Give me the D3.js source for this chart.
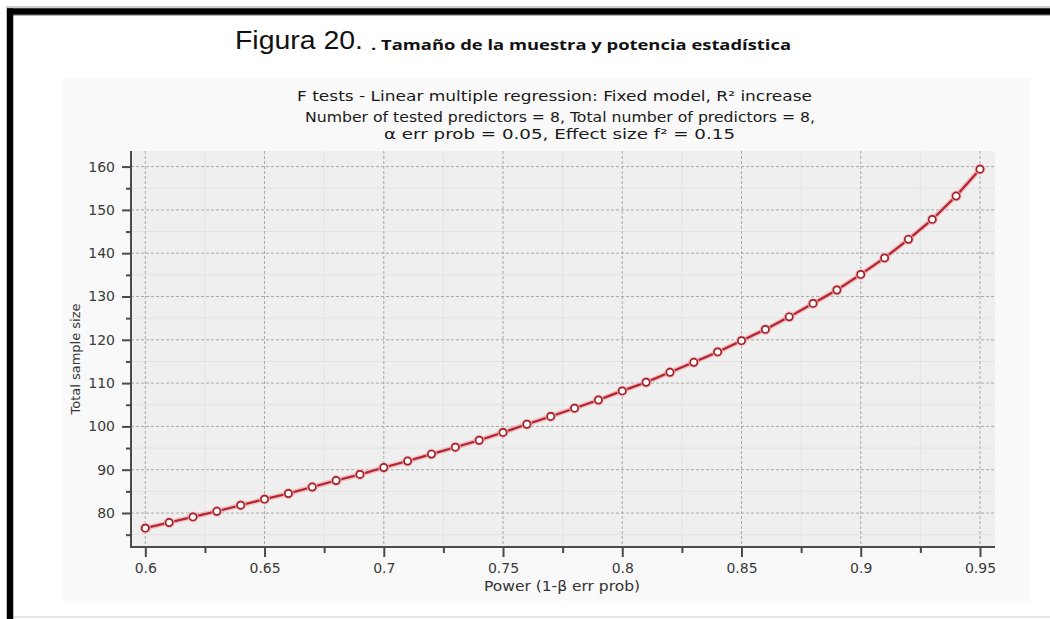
<!DOCTYPE html>
<html>
<head>
<meta charset="utf-8">
<script src="https://cdn.jsdelivr.net/npm/d3@7"></script>
<style>
  html, body { margin: 0; padding: 0; background: #ffffff; }
  svg { display: block; }
</style>
</head>
<body>
<svg id="chart" width="1050" height="619"></svg>
<script>
// Power (1-β) values on the horizontal axis
const power = [0.60, 0.61, 0.62, 0.63, 0.64, 0.65, 0.66, 0.67, 0.68, 0.69,
               0.70, 0.71, 0.72, 0.73, 0.74, 0.75, 0.76, 0.77, 0.78, 0.79,
               0.80, 0.81, 0.82, 0.83, 0.84, 0.85, 0.86, 0.87, 0.88, 0.89,
               0.90, 0.91, 0.92, 0.93, 0.94, 0.95];
// Total sample size required at each power level
const sampleSize = [76.5, 77.8, 79.1, 80.4, 81.8, 83.2, 84.5, 86.0, 87.5, 88.9,
                    90.5, 92.0, 93.6, 95.2, 96.8, 98.6, 100.5, 102.3, 104.2, 106.1,
                    108.2, 110.2, 112.5, 114.8, 117.2, 119.8, 122.4, 125.3, 128.4, 131.5,
                    135.1, 138.9, 143.2, 147.8, 153.2, 159.4];
// Axis ticks
const xTicks = [0.6, 0.65, 0.7, 0.75, 0.8, 0.85, 0.9, 0.95];
const xMinorTicks = [0.625, 0.675, 0.725, 0.775, 0.825, 0.875, 0.925];
const yTicks = [80, 90, 100, 110, 120, 130, 140, 150, 160];
const yMinorTicks = [75, 85, 95, 105, 115, 125, 135, 145, 155];
const xTickLabels = ["0.6", "0.65", "0.7", "0.75", "0.8", "0.85", "0.9", "0.95"];

// Titles
const figureTitle = "Figura 20.";
const figureCaption = ". Tamaño de la muestra y potencia estadística";
const chartTitleLines = [
  "F tests - Linear multiple regression: Fixed model, R² increase",
  "Number of tested predictors = 8, Total number of predictors = 8,",
  "α err prob = 0.05, Effect size f² = 0.15"
];
const xLabel = "Power (1-β err prob)";
const yLabel = "Total sample size";

const svg = d3.select("#chart");

// Document frame: heavy rule on the top and left edges
svg.append("rect").attr("x", 0).attr("y", 0).attr("width", 1050).attr("height", 619).attr("fill", "#ffffff");
svg.append("line").attr("x1", 6).attr("x2", 1050).attr("y1", 7).attr("y2", 7).attr("stroke", "#9a9a9a").attr("stroke-width", 1);
svg.append("line").attr("x1", 13).attr("x2", 1050).attr("y1", 15.5).attr("y2", 15.5).attr("stroke", "#b0b0b0").attr("stroke-width", 1);
svg.append("line").attr("x1", 13).attr("x2", 1050).attr("y1", 617).attr("y2", 617).attr("stroke", "#dddddd").attr("stroke-width", 1.5);
svg.append("line").attr("x1", 7).attr("x2", 1050).attr("y1", 11.5).attr("y2", 11.5).attr("stroke", "#000").attr("stroke-width", 6.5);
svg.append("line").attr("x1", 10).attr("x2", 10).attr("y1", 8.5).attr("y2", 619).attr("stroke", "#000").attr("stroke-width", 6.5);

// Figure heading
svg.append("text")
  .attr("x", 235).attr("y", 49)
  .attr("font-family", "Liberation Sans, Arial, sans-serif")
  .attr("font-size", 26)
  .attr("textLength", 128).attr("lengthAdjust", "spacingAndGlyphs")
  .attr("fill", "#111")
  .text(figureTitle);
svg.append("text")
  .attr("x", 371).attr("y", 50)
  .attr("font-family", "Open Sans, sans-serif")
  .attr("font-weight", "bold")
  .attr("font-size", 14)
  .attr("textLength", 420).attr("lengthAdjust", "spacingAndGlyphs")
  .attr("fill", "#111")
  .text(figureCaption);

// Chart panel
svg.append("rect").attr("x", 63).attr("y", 78).attr("width", 967).attr("height", 523).attr("fill", "#f9f9f9");

// Chart title block
const titleSpecs = [
  {y: 101, x0: 297, x1: 812},
  {y: 122, x0: 305, x1: 815},
  {y: 139, x0: 384, x1: 735}
];
chartTitleLines.forEach((t, i) => {
  svg.append("text")
    .attr("x", (titleSpecs[i].x0 + titleSpecs[i].x1) / 2)
    .attr("y", titleSpecs[i].y)
    .attr("text-anchor", "middle")
    .attr("font-family", "DejaVu Sans, sans-serif")
    .attr("font-size", 14.5)
    .attr("textLength", titleSpecs[i].x1 - titleSpecs[i].x0).attr("lengthAdjust", "spacingAndGlyphs")
    .attr("fill", "#1a1a1a")
    .text(t);
});

// Plot area
const plot = {left: 131, right: 995, top: 151, bottom: 547};
const x = d3.scaleLinear().domain([0.594, 0.9563]).range([plot.left, plot.right]);
const y = d3.scaleLinear().domain([72.15, 163.6]).range([plot.bottom, plot.top]);

svg.append("rect")
  .attr("x", plot.left).attr("y", plot.top)
  .attr("width", plot.right - plot.left).attr("height", plot.bottom - plot.top)
  .attr("fill", "#efefef");

const grid = svg.append("g");
// Minor grid (solid, faint)
grid.selectAll(".vminor").data(xMinorTicks).join("line")
  .attr("x1", d => x(d)).attr("x2", d => x(d))
  .attr("y1", plot.top).attr("y2", plot.bottom)
  .attr("stroke", "#e4e4e4").attr("stroke-width", 1);
grid.selectAll(".hminor").data(yMinorTicks).join("line")
  .attr("x1", plot.left).attr("x2", plot.right)
  .attr("y1", d => y(d)).attr("y2", d => y(d))
  .attr("stroke", "#e4e4e4").attr("stroke-width", 1);
// Major grid (dashed)
grid.selectAll(".vmajor").data(xTicks).join("line")
  .attr("x1", d => x(d)).attr("x2", d => x(d))
  .attr("y1", plot.top).attr("y2", plot.bottom)
  .attr("stroke", "#a8a8a8").attr("stroke-width", 1)
  .attr("stroke-dasharray", "3,2");
grid.selectAll(".hmajor").data(yTicks).join("line")
  .attr("x1", plot.left).attr("x2", plot.right)
  .attr("y1", d => y(d)).attr("y2", d => y(d))
  .attr("stroke", "#a8a8a8").attr("stroke-width", 1)
  .attr("stroke-dasharray", "3,2");

// Axes
const axisColor = "#4a4a4a";
const xAxis = d3.axisBottom(x).tickValues(xTicks)
  .tickFormat((d, i) => xTickLabels[i]).tickSize(10).tickPadding(6);
const xMinorAxis = d3.axisBottom(x).tickValues(xMinorTicks).tickFormat("").tickSize(6);
const yAxis = d3.axisLeft(y).tickValues(yTicks).tickSize(9).tickPadding(7);
const yMinorAxis = d3.axisLeft(y).tickValues(yMinorTicks).tickFormat("").tickSize(5);

function styleAxis(g) {
  g.select(".domain").remove();
  g.selectAll(".tick line").attr("stroke", axisColor).attr("stroke-width", 2);
  g.selectAll(".tick text")
    .attr("fill", "#3a3a3a")
    .attr("font-family", "DejaVu Sans, sans-serif")
    .attr("font-size", 14);
}
svg.append("g").attr("transform", `translate(0,${plot.bottom})`).call(xMinorAxis).call(styleAxis);
svg.append("g").attr("transform", `translate(0,${plot.bottom})`).call(xAxis).call(styleAxis);
svg.append("g").attr("transform", `translate(${plot.left},0)`).call(yMinorAxis).call(styleAxis);
svg.append("g").attr("transform", `translate(${plot.left},0)`).call(yAxis).call(styleAxis);

svg.append("line").attr("x1", plot.left).attr("x2", plot.left)
  .attr("y1", plot.top).attr("y2", plot.bottom + 1)
  .attr("stroke", axisColor).attr("stroke-width", 2);
svg.append("line").attr("x1", plot.left - 1).attr("x2", plot.right)
  .attr("y1", plot.bottom).attr("y2", plot.bottom)
  .attr("stroke", axisColor).attr("stroke-width", 2);

// Axis titles
svg.append("text")
  .attr("x", 562).attr("y", 591)
  .attr("text-anchor", "middle")
  .attr("font-family", "DejaVu Sans, sans-serif")
  .attr("font-size", 14)
  .attr("textLength", 156).attr("lengthAdjust", "spacingAndGlyphs")
  .attr("fill", "#333")
  .text(xLabel);
svg.append("text")
  .attr("transform", "translate(80,359) rotate(-90)")
  .attr("text-anchor", "middle")
  .attr("font-family", "DejaVu Sans, sans-serif")
  .attr("font-size", 13)
  .attr("fill", "#333")
  .text(yLabel);

// Series
const pts = power.map((p, i) => [p, sampleSize[i]]);
const line = d3.line().x(d => x(d[0])).y(d => y(d[1]));
svg.append("path").datum(pts).attr("d", line)
  .attr("fill", "none").attr("stroke", "#f2a8ab").attr("stroke-width", 5).attr("opacity", 0.7);
svg.append("path").datum(pts).attr("d", line)
  .attr("fill", "none").attr("stroke", "#b02530").attr("stroke-width", 2.2);
svg.append("g").selectAll("circle.halo").data(pts).join("circle")
  .attr("cx", d => x(d[0])).attr("cy", d => y(d[1])).attr("r", 5.5)
  .attr("fill", "#f2b3b6").attr("opacity", 0.8);
svg.append("g").selectAll("circle.pt").data(pts).join("circle")
  .attr("cx", d => x(d[0])).attr("cy", d => y(d[1])).attr("r", 3.6)
  .attr("fill", "#ffffff").attr("stroke", "#a0212a").attr("stroke-width", 1.7);
</script>
</body>
</html>
